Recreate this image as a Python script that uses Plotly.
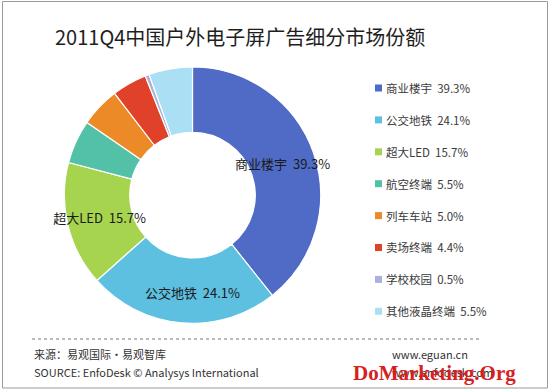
import plotly.graph_objects as go

title = "2011Q4中国户外电子屏广告细分市场份额"
categories = ["商业楼宇", "公交地铁", "超大LED", "航空终端", "列车车站", "卖场终端", "学校校园", "其他液晶终端"]
shares = [39.3, 24.1, 15.7, 5.5, 5.0, 4.4, 0.5, 5.5]
colors = ["#4F6BC5", "#5DC0E0", "#A6D44E", "#52C1A8", "#EC8A28", "#DF4129", "#AEB0DC", "#AADFF4"]
show_label = [True, True, True, False, False, False, False, False]
source_cn = "来源：易观国际·易观智库"
source_en = "SOURCE: EnfoDesk © Analysys International"
site1 = "www.eguan.cn"
site2 = "www.enfodesk.com"
watermark = "DoMarketing.Org"

CJK = "Noto Sans CJK SC, Microsoft YaHei, sans-serif"
SP = "\u00a0\u00a0"

slice_text = [f"{c}{SP}{v:.1f}%" if s else "" for c, v, s in zip(categories, shares, show_label)]

fig = go.Figure()
fig.add_trace(go.Pie(
    labels=categories, values=shares, text=slice_text,
    textinfo="text", textposition="inside", insidetextorientation="horizontal",
    textfont=dict(family=CJK, size=13, color="#1a1a1a"),
    marker=dict(colors=colors, line=dict(color="white", width=1.2)),
    hole=0.49, sort=False, direction="clockwise", rotation=0,
    domain=dict(x=[0.117, 0.583], y=[0.172, 0.83]),
    showlegend=False, hoverinfo="label+percent",
))

W, H = 550, 391
annotations = []
shapes = []

annotations.append(dict(text=title, x=53 / W, y=1 - 37 / H, xref="paper", yref="paper",
                        xanchor="left", yanchor="middle", showarrow=False,
                        font=dict(family=CJK, size=20, color="#1e1e1e")))

y0 = 88
step = 31.9
for i, (c, v, col) in enumerate(zip(categories, shares, colors)):
    yc = y0 + i * step
    shapes.append(dict(type="rect", xref="paper", yref="paper",
                       x0=375 / W, x1=382 / W, y0=1 - (yc + 3.5) / H, y1=1 - (yc - 3.5) / H,
                       fillcolor=col, line=dict(width=0)))
    annotations.append(dict(text=f"{c}{SP}{v:.1f}%", x=384 / W, y=1 - yc / H, xref="paper", yref="paper",
                            xanchor="left", yanchor="middle", showarrow=False,
                            font=dict(family=CJK, size=11.5, color="#3a3a3a")))

# dotted separator
shapes.append(dict(type="line", xref="paper", yref="paper", x0=32 / W, x1=482 / W,
                   y0=1 - 339 / H, y1=1 - 339 / H, line=dict(color="#777", width=1, dash="dot")))
# border
shapes.append(dict(type="rect", xref="paper", yref="paper", x0=2.5 / W, x1=547.5 / W,
                   y0=1 - 388 / H, y1=1 - 1.5 / H, line=dict(color="#9a9a9a", width=1)))

for txt, x, y, anc in [(source_cn, 32, 354, "left"), (source_en, 32, 372, "left"),
                       (site1, 390, 354, "left"), (site2, 390, 372, "left")]:
    annotations.append(dict(text=txt, x=x / W, y=1 - y / H, xref="paper", yref="paper",
                            xanchor=anc, yanchor="middle", showarrow=False,
                            font=dict(family=CJK, size=11, color="#333")))

annotations.append(dict(text=f"<b>{watermark}</b>", x=518 / W, y=1 - 373 / H, xref="paper", yref="paper",
                        xanchor="right", yanchor="middle", showarrow=False,
                        font=dict(family="Liberation Serif, serif", size=21, color="#D7211E")))

fig.update_layout(
    width=W, height=H, margin=dict(l=0, r=0, t=0, b=0),
    paper_bgcolor="white", plot_bgcolor="white",
    annotations=annotations, shapes=shapes,
    uniformtext=dict(minsize=13, mode="show"),
)
fig.write_html("out.html", config={"displayModeBar": False},
               post_script="document.body.style.margin='0px';")
